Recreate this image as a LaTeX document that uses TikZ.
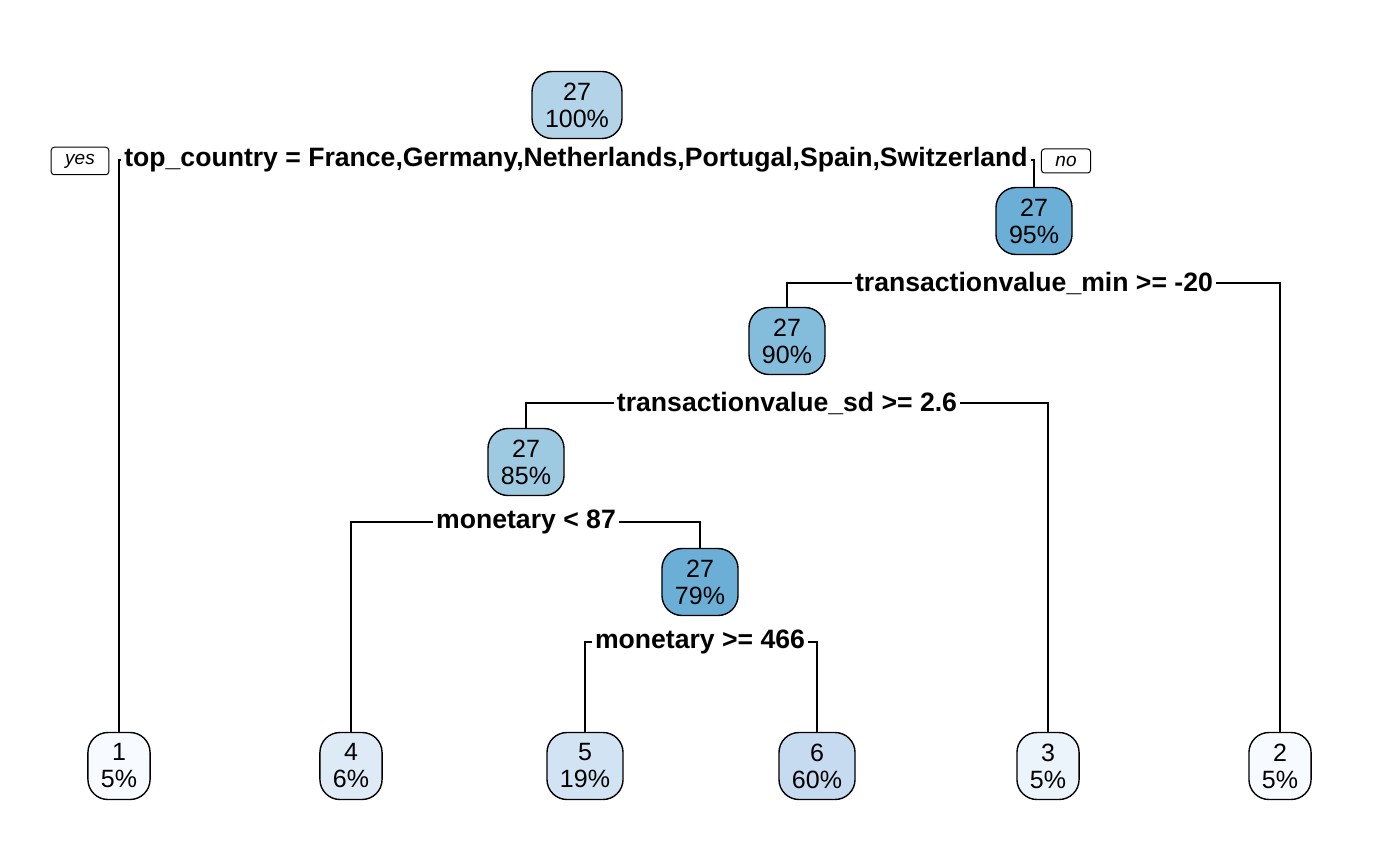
\documentclass[tikz,border=0pt]{standalone}
\usepackage{fontspec}
\setmainfont{Liberation Sans}
\definecolor{b100}{HTML}{B3D3E8}
\definecolor{b95}{HTML}{6BAED6}
\definecolor{b90}{HTML}{84BCDB}
\definecolor{b85}{HTML}{9ECAE1}
\definecolor{lf1}{HTML}{F7FBFF}
\definecolor{lf3}{HTML}{EBF3FB}
\definecolor{lf4}{HTML}{DEEBF7}
\definecolor{lf5}{HTML}{D2E3F3}
\definecolor{lf6}{HTML}{C6DBEF}
\def\twig#1#2#3{
    \draw[edge] (#1.west) -| (#2.north);
    \draw[edge] (#1.east) -| (#3.north);
}

\begin{document}
\begin{tikzpicture}[x=0.5pt,y=-0.5pt,
    box/.style={draw,line width=0.7pt,rounded corners=10pt,align=center,inner xsep=6.5pt,minimum height=33.5pt,font=\fontsize{12.5}{13.5}\selectfont},
    rule/.style={font=\bfseries\fontsize{13.3}{14}\selectfont,inner sep=1.5pt},
    tag/.style={draw,line width=0.5pt,rounded corners=1.5pt,inner xsep=7pt,minimum height=12pt,font=\itshape\fontsize{9.5}{10}\selectfont},
    edge/.style={line width=0.65pt}]
    \useasboundingbox (0,0) rectangle (1400,865);
    \node[box,fill=b100] (n1) at (577,105) {27\\100\%};
    \node[rule] (s1) at (576,160) {top\_country = France,Germany,Netherlands,Portugal,Spain,Switzerland};
    \node[tag] (yes) at (80,161) {yes};
    \node[tag] (no) at (1066,161) {no};
    \node[box,fill=b95] (n3) at (1034,221) {27\\95\%};
    \node[rule] (s3) at (1034,283) {transactionvalue\_min >= -20};
    \node[box,fill=b90] (n6) at (787,341) {27\\90\%};
    \node[rule] (s6) at (787,403) {transactionvalue\_sd >= 2.6};
    \node[box,fill=b85] (n12) at (526,462) {27\\85\%};
    \node[rule] (s12) at (526,522) {monetary < 87};
    \node[box,fill=b95] (n25) at (700,582) {27\\79\%};
    \node[rule] (s25) at (700,642) {monetary >= 466};
    \node[box,fill=lf1] (l1) at (119,766) {1\\5\%};
    \node[box,fill=lf4] (l4) at (351,766) {4\\6\%};
    \node[box,fill=lf5] (l5) at (585,766) {5\\19\%};
    \node[box,fill=lf6] (l6) at (817,766) {6\\60\%};
    \node[box,fill=lf3] (l3) at (1048,766) {3\\5\%};
    \node[box,fill=lf1] (l2) at (1280,766) {2\\5\%};
    \twig{s1}{l1}{n3}
    \twig{s3}{n6}{l2}
    \twig{s6}{n12}{l3}
    \twig{s12}{l4}{n25}
    \twig{s25}{l5}{l6}
\end{tikzpicture}
\end{document}
